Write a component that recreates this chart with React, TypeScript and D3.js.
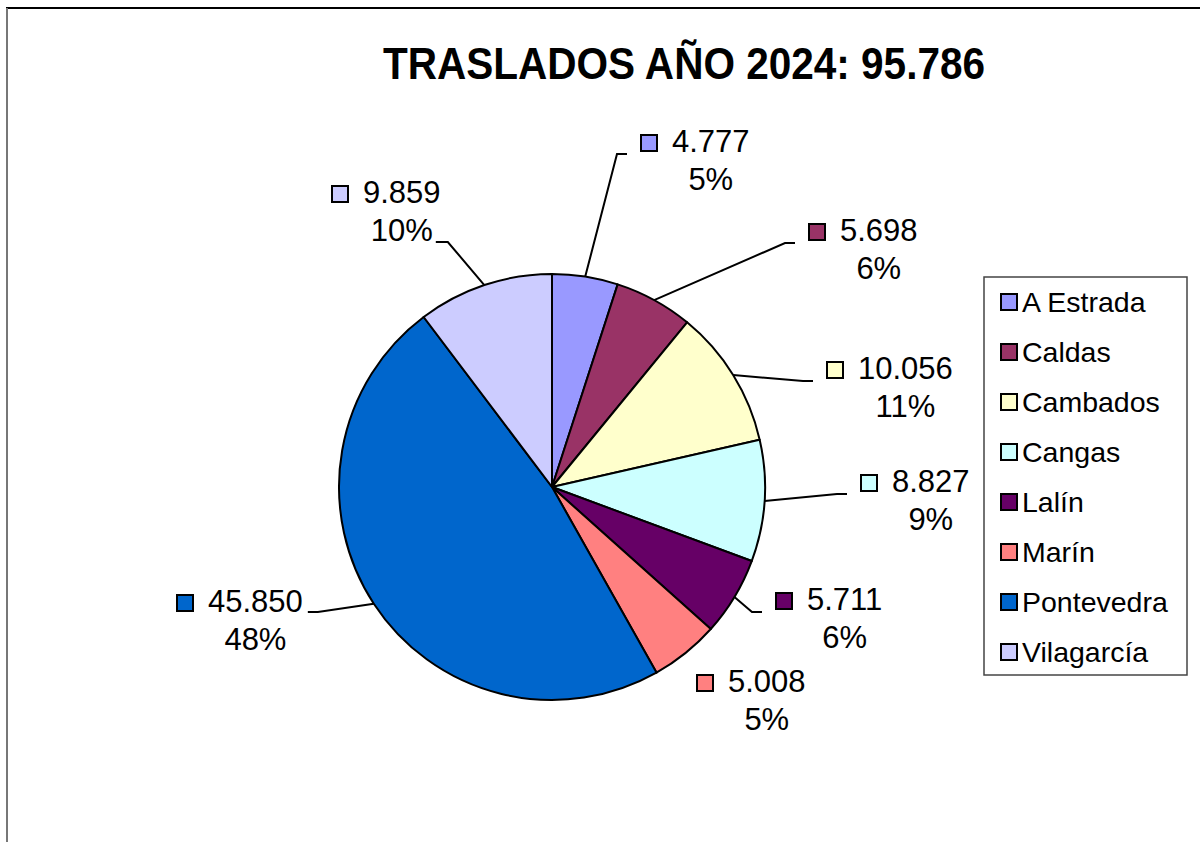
import {useEffect, useRef} from "react";
import * as d3 from "d3";

// oficinas y traslados del año
const categories = ["A Estrada", "Caldas", "Cambados", "Cangas", "Lalín", "Marín", "Pontevedra", "Vilagarcía"];
const traslados = [4777, 5698, 10056, 8827, 5711, 5008, 45850, 9859];
const colors = ["#9999FF", "#993366", "#FFFFCC", "#CCFFFF", "#660066", "#FF8080", "#0066CC", "#CCCCFF"];

// where each data label sits, relative to the pie centre (value text left / first baseline)
const labelLayout = [
    {dx: 120, dy: -335, lead: "left"},
    {dx: 288, dy: -246, lead: "left"},
    {dx: 306, dy: -108, lead: "left"},
    {dx: 340, dy: 5, lead: "left"},
    {dx: 255, dy: 123, lead: "left"},
    {dx: 176, dy: 205, lead: "none"},
    {dx: -344, dy: 125, lead: "right1"},
    {dx: -189, dy: -284, lead: "right2"},
];

const FONT = "'Liberation Sans', Arial, sans-serif";

// percentages rounded so they add to 100 (like excel does)
function roundedPercents(vals: number[]) {
    const total = d3.sum(vals);
    const raw = vals.map(v => v / total * 100);
    const floors = raw.map(Math.floor);
    let left = 100 - d3.sum(floors);
    const order = d3.range(vals.length).sort((a, b) => (raw[b] - floors[b]) - (raw[a] - floors[a]));
    for (let i = 0; i < left; i++) floors[order[i]] += 1;
    return floors;
}

function PieChart() {
    const ref = useRef<SVGSVGElement>(null);

    useEffect(() => {
        const width = 1200, height = 842;
        const cx = 552, cy = 487, r = 213;

        const es = d3.formatLocale({decimal: ",", thousands: ".", grouping: [3], currency: ["", "€"]});
        const fmt = es.format(",d");
        const pcts = roundedPercents(traslados);

        const svg = d3.select(ref.current)
            .attr("width", width)
            .attr("height", height);
        svg.selectAll("*").remove();

        svg.append("rect").attr("width", width).attr("height", height).attr("fill", "white");

        // chart frame (only top and left show up)
        svg.append("line").attr("x1", 6).attr("x2", width).attr("y1", 8).attr("y2", 8)
            .attr("stroke", "black").attr("stroke-width", 2);
        svg.append("line").attr("x1", 7).attr("x2", 7).attr("y1", 8).attr("y2", height)
            .attr("stroke", "#777").attr("stroke-width", 2);

        // title
        svg.append("text")
            .attr("x", 684)
            .attr("y", 79)
            .attr("text-anchor", "middle")
            .attr("font-family", FONT)
            .attr("font-weight", "bold")
            .attr("font-size", 44)
            .attr("textLength", 602)
            .attr("lengthAdjust", "spacingAndGlyphs")
            .text("TRASLADOS AÑO 2024: " + fmt(d3.sum(traslados)));

        const pie = d3.pie<number>().sort(null).value(d => d);
        const arcs = pie(traslados);
        const arc = d3.arc<d3.PieArcDatum<number>>().innerRadius(0).outerRadius(r);
        const edge = d3.arc<d3.PieArcDatum<number>>().innerRadius(r).outerRadius(r);

        const g = svg.append("g").attr("transform", `translate(${cx},${cy})`);

        g.selectAll("path.slice")
            .data(arcs)
            .enter()
            .append("path")
            .attr("class", "slice")
            .attr("d", arc)
            .attr("fill", (d, i) => colors[i])
            .attr("stroke", "black")
            .attr("stroke-width", 2)
            .attr("stroke-linejoin", "round");

        // data labels
        arcs.forEach((d, i) => {
            const lay = labelLayout[i];
            const lg = g.append("g");

            const val = lg.append("text")
                .attr("x", lay.dx)
                .attr("y", lay.dy)
                .attr("font-family", FONT)
                .attr("font-size", 31)
                .attr("fill", "black")
                .text(fmt(traslados[i]));
            const valW = (val.node() as SVGTextElement).getComputedTextLength();

            const pct = lg.append("text")
                .attr("x", lay.dx + valW / 2)
                .attr("y", lay.dy + 38)
                .attr("text-anchor", "middle")
                .attr("font-family", FONT)
                .attr("font-size", 31)
                .attr("fill", "black")
                .text(pcts[i] + "%");
            const pctW = (pct.node() as SVGTextElement).getComputedTextLength();

            lg.append("rect")
                .attr("x", lay.dx - 31)
                .attr("y", lay.dy - 17)
                .attr("width", 16)
                .attr("height", 16)
                .attr("fill", colors[i])
                .attr("stroke", "black")
                .attr("stroke-width", 2);

            if (lay.lead === "none") return;

            const [px, py] = edge.centroid(d);
            let end: [number, number], elbow: [number, number];
            if (lay.lead === "left") {
                end = [lay.dx - 45, lay.dy + 2];
                elbow = [end[0] - 10, end[1]];
            } else if (lay.lead === "right1") {
                end = [lay.dx + valW + 5, lay.dy];
                elbow = [end[0] + 10, end[1]];
            } else {
                end = [lay.dx + valW / 2 + pctW / 2 + 3, lay.dy + 39];
                elbow = [end[0] + 12, end[1]];
            }

            lg.append("path")
                .attr("d", d3.line()([[px, py], elbow, end]))
                .attr("fill", "none")
                .attr("stroke", "black")
                .attr("stroke-width", 2);
        });

        // legend
        const legend = svg.append("g").attr("transform", "translate(984,277)");
        legend.append("rect")
            .attr("width", 203)
            .attr("height", 398)
            .attr("fill", "white")
            .attr("stroke", "#444")
            .attr("stroke-width", 1.5);

        const items = legend.selectAll("g.item")
            .data(categories)
            .enter()
            .append("g")
            .attr("class", "item")
            .attr("transform", (d, i) => `translate(0,${i * 50})`);

        items.append("rect")
            .attr("x", 17)
            .attr("y", 17)
            .attr("width", 16)
            .attr("height", 16)
            .attr("fill", (d, i) => colors[i])
            .attr("stroke", "black")
            .attr("stroke-width", 2);

        items.append("text")
            .attr("x", 38)
            .attr("y", 35)
            .attr("font-family", FONT)
            .attr("font-size", 28.5)
            .attr("fill", "black")
            .text(d => d);
    }, []);

    return <svg ref={ref} style={{position: "absolute", left: 0, top: 0, display: "block"}}></svg>
}

export default function App() {
    return <PieChart/>
}
